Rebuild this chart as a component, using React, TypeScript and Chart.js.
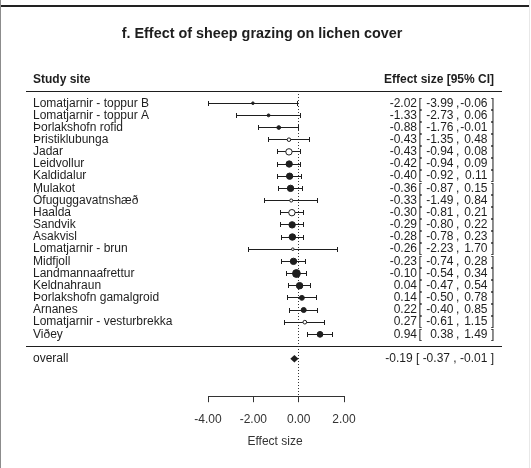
import React, { useEffect, useRef } from "react";
import { Chart, registerables } from "chart.js";

Chart.register(...registerables);

// ---------------- data ----------------
const chartTitle = "f. Effect of sheep grazing on lichen cover";
const leftHeader = "Study site";
const rightHeader = "Effect size [95% CI]";
const xAxisTitle = "Effect size";

const studySites = [
  "Lomatjarnir - toppur B",
  "Lomatjarnir - toppur A",
  "Þorlakshofn rofid",
  "Þristiklubunga",
  "Jadar",
  "Leidvollur",
  "Kaldidalur",
  "Mulakot",
  "Ófuguggavatnshæð",
  "Haalda",
  "Sandvik",
  "Asakvisl",
  "Lomatjarnir - brun",
  "Midfjoll",
  "Landmannaafrettur",
  "Keldnahraun",
  "Þorlakshofn gamalgroid",
  "Arnanes",
  "Lomatjarnir - vesturbrekka",
  "Viðey",
];
const effectSizes = [
  -2.02, -1.33, -0.88, -0.43, -0.43, -0.42, -0.4, -0.36, -0.33, -0.3, -0.29,
  -0.28, -0.26, -0.23, -0.1, 0.04, 0.14, 0.22, 0.27, 0.94,
];
const ciLower = [
  -3.99, -2.73, -1.76, -1.35, -0.94, -0.94, -0.92, -0.87, -1.49, -0.81, -0.8,
  -0.78, -2.23, -0.74, -0.54, -0.47, -0.5, -0.4, -0.61, 0.38,
];
const ciUpper = [
  -0.06, 0.06, -0.01, 0.48, 0.08, 0.09, 0.11, 0.15, 0.84, 0.21, 0.22, 0.23,
  1.7, 0.28, 0.34, 0.54, 0.78, 0.85, 1.15, 1.49,
];
const openMarker = [
  false, false, false, true, true, false, false, false, true, true, false,
  false, true, false, false, false, false, false, true, false,
];
const overallLabel = "overall";
const overallEstimate = -0.19;
const overallLower = -0.37;
const overallUpper = -0.01;
const xTicks = [-4, -2, 0, 2];

// ---------------- styling ----------------
const FONT = "'Liberation Sans', Arial, Helvetica, sans-serif";
const INK = "#1e1e1e";
const K = studySites.length;

const crisp = (v: number) => Math.floor(v) + 0.5;
const fmt = (v: number) => v.toFixed(2);

// marker size from inverse-variance weight (as the forest plot does)
const weights = ciLower.map((lo, i) => {
  const se = (ciUpper[i] - lo) / 3.92;
  return 1 / (se * se);
});
const wMin = Math.min(...weights);
const wMax = Math.max(...weights);
const markerRadius = weights.map(
  (w) => 2.6 * (0.5 + (w - wMin) / (wMax - wMin))
);

const forestPlugin = {
  id: "forestPlugin",
  beforeDatasetsDraw(chart: any) {
    const { ctx, chartArea } = chart;
    const xs = chart.scales.x;
    const ys = chart.scales.y;
    ctx.save();
    ctx.strokeStyle = INK;
    ctx.lineWidth = 1;

    // header rule and separator
    const lineL = 26;
    const lineR = 502;
    for (const r of [K + 1, 0]) {
      const yy = crisp(ys.getPixelForValue(r));
      ctx.beginPath();
      ctx.moveTo(lineL, yy);
      ctx.lineTo(lineR, yy);
      ctx.stroke();
    }

    // dotted zero line
    const x0 = crisp(xs.getPixelForValue(0));
    ctx.save();
    ctx.setLineDash([1, 2]);
    ctx.strokeStyle = "#333";
    ctx.beginPath();
    ctx.moveTo(x0, ys.getPixelForValue(K + 1));
    ctx.lineTo(x0, chartArea.bottom);
    ctx.stroke();
    ctx.restore();

    // error bars
    for (let i = 0; i < K; i++) {
      const yy = crisp(ys.getPixelForValue(K - i));
      const a = xs.getPixelForValue(ciLower[i]);
      const b = xs.getPixelForValue(ciUpper[i]);
      ctx.beginPath();
      ctx.moveTo(a, yy);
      ctx.lineTo(b, yy);
      ctx.moveTo(crisp(a), yy - 2.5);
      ctx.lineTo(crisp(a), yy + 2.5);
      ctx.moveTo(crisp(b), yy - 2.5);
      ctx.lineTo(crisp(b), yy + 2.5);
      ctx.stroke();
    }

    // overall diamond
    const yo = ys.getPixelForValue(-1);
    ctx.fillStyle = INK;
    ctx.beginPath();
    ctx.moveTo(xs.getPixelForValue(overallLower), yo);
    ctx.lineTo(xs.getPixelForValue(overallEstimate), yo - 3.8);
    ctx.lineTo(xs.getPixelForValue(overallUpper), yo);
    ctx.lineTo(xs.getPixelForValue(overallEstimate), yo + 3.8);
    ctx.closePath();
    ctx.fill();

    // x-axis line from first to last tick
    const yb = crisp(chartArea.bottom);
    ctx.strokeStyle = "#333";
    ctx.beginPath();
    ctx.moveTo(crisp(xs.getPixelForValue(xTicks[0])), yb);
    ctx.lineTo(crisp(xs.getPixelForValue(xTicks[xTicks.length - 1])), yb);
    ctx.stroke();
    ctx.restore();
  },
  afterDraw(chart: any) {
    const { ctx, width, height } = chart;
    const ys = chart.scales.y;
    ctx.save();
    ctx.fillStyle = INK;
    ctx.textBaseline = "middle";

    // title
    ctx.font = `bold 14.4px ${FONT}`;
    ctx.textAlign = "center";
    ctx.fillText(chartTitle, 262, 34);

    // headers
    ctx.font = `bold 12px ${FONT}`;
    ctx.textAlign = "left";
    ctx.fillText(leftHeader, 33, 80);
    ctx.textAlign = "right";
    ctx.fillText(rightHeader, 494, 80);

    // rows
    ctx.font = `12px ${FONT}`;
    for (let i = 0; i < K; i++) {
      const yy = ys.getPixelForValue(K - i);
      ctx.textAlign = "left";
      ctx.fillText(studySites[i], 33, yy);
      ctx.textAlign = "right";
      ctx.fillText(fmt(effectSizes[i]), 417, yy);
      ctx.fillText(fmt(ciLower[i]), 453.5, yy);
      ctx.fillText(fmt(ciUpper[i]), 487.5, yy);
      ctx.textAlign = "left";
      ctx.fillText("[", 418.5, yy);
      ctx.fillText(",", 456, yy);
      ctx.fillText("]", 491, yy);
    }
    const yo = ys.getPixelForValue(-1);
    ctx.textAlign = "left";
    ctx.fillText(overallLabel, 33, yo);
    ctx.textAlign = "right";
    ctx.fillText(
      `${fmt(overallEstimate)} [ ${fmt(overallLower)} , ${fmt(overallUpper)} ]`,
      494,
      yo
    );

    // frame
    ctx.strokeStyle = "#222";
    ctx.lineWidth = 2;
    ctx.beginPath();
    ctx.moveTo(0, 6);
    ctx.lineTo(529, 6);
    ctx.stroke();
    ctx.lineWidth = 1;
    ctx.strokeStyle = "#8c8c8c";
    ctx.beginPath();
    ctx.moveTo(0.5, 0);
    ctx.lineTo(0.5, height);
    ctx.stroke();
    ctx.strokeStyle = "#e8e8e8";
    ctx.beginPath();
    ctx.moveTo(width - 1.5, 0);
    ctx.lineTo(width - 1.5, height);
    ctx.stroke();
    ctx.restore();
  },
};

export default function App() {
  const canvasRef = useRef<HTMLCanvasElement | null>(null);

  useEffect(() => {
    const canvas = canvasRef.current;
    if (!canvas) return;
    const points = effectSizes.map((e, i) => ({ x: e, y: K - i }));
    const chart = new Chart(canvas, {
      type: "scatter",
      data: {
        datasets: [
          {
            data: points,
            pointRadius: markerRadius,
            pointHoverRadius: markerRadius,
            pointStyle: "circle",
            pointBackgroundColor: openMarker.map((o) => (o ? "#ffffff" : INK)),
            pointBorderColor: INK,
            pointBorderWidth: 1,
            showLine: false,
          },
        ],
      },
      options: {
        responsive: false,
        animation: false,
        events: [],
        layout: { padding: { left: 170, right: 151, top: 60, bottom: 20.6 } },
        plugins: {
          legend: { display: false },
          tooltip: { enabled: false },
          title: { display: false },
        },
        scales: {
          x: {
            type: "linear",
            min: -5.677,
            max: 3.586,
            afterBuildTicks: (scale: any) => {
              scale.ticks = xTicks.map((v) => ({ value: v }));
            },
            border: { display: false },
            grid: {
              display: true,
              drawOnChartArea: false,
              drawTicks: true,
              tickLength: 6,
              color: "#333",
              lineWidth: 1,
            },
            ticks: {
              callback: (v: any) => Number(v).toFixed(2),
              font: { family: FONT, size: 12 },
              color: "#333",
              padding: 10,
              maxRotation: 0,
              autoSkip: false,
            },
            title: {
              display: true,
              text: xAxisTitle,
              font: { family: FONT, size: 12, lineHeight: 0.9 },
              color: "#333",
              padding: { top: 0, bottom: 0 },
            },
          },
          y: {
            type: "linear",
            display: false,
            min: -4.084,
            max: 23.55,
          },
        },
      },
      plugins: [forestPlugin],
    } as any);
    return () => chart.destroy();
  }, []);

  return (
    <div style={{ position: "absolute", left: 0, top: 0, width: 531, height: 468, background: "#fff" }}>
      <canvas ref={canvasRef} width={531} height={468} style={{ display: "block" }} />
    </div>
  );
}
